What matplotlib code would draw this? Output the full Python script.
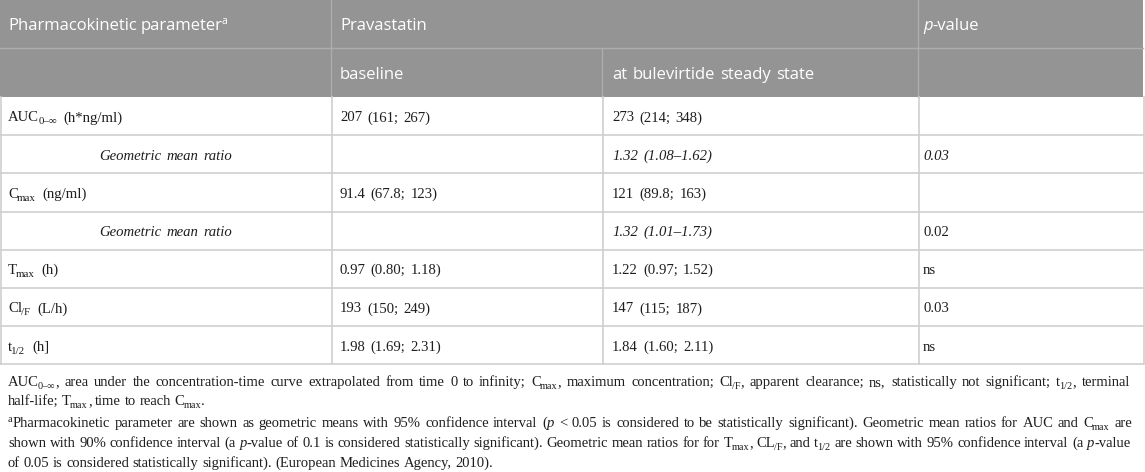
import matplotlib
matplotlib.use("Agg")
import matplotlib.pyplot as plt

# table content (runs: (text, style) with style n / i / sub / sup)
param_labels = [
    [("AUC", "n"), ("0\u2013\u221e", "sub"), (" (h*ng/ml)", "n")],
    [("Geometric mean ratio", "i")],
    [("C", "n"), ("max", "sub"), (" (ng/ml)", "n")],
    [("Geometric mean ratio", "i")],
    [("T", "n"), ("max", "sub"), (" (h)", "n")],
    [("Cl", "n"), ("/F", "sub"), (" (L/h)", "n")],
    [("t", "n"), ("1/2", "sub"), (" (h]", "n")],
]
baseline = ["207 (161; 267)", "", "91.4 (67.8; 123)", "", "0.97 (0.80; 1.18)",
            "193 (150; 249)", "1.98 (1.69; 2.31)"]
steady = ["273 (214; 348)", "1.32 (1.08\u20131.62)", "121 (89.8; 163)", "1.32 (1.01\u20131.73)",
          "1.22 (0.97; 1.52)", "147 (115; 187)", "1.84 (1.60; 2.11)"]
steady_italic = [False, True, False, True, False, False, False]
pvalues = ["", "0.03", "", "0.02", "ns", "0.03", "ns"]
pvalue_italic = [False, True, False, False, False, False, False]

footnotes = [
    ([("AUC", "n"), ("0\u2013\u221e", "sub"), (", area under the concentration-time curve extrapolated from time 0 to infinity; C", "n"),
      ("max", "sub"), (", maximum concentration; Cl", "n"), ("/F", "sub"),
      (", apparent clearance; ns, statistically not significant; t", "n"), ("1/2", "sub"), (", terminal", "n")], True),
    ([("half-life; T", "n"), ("max", "sub"), (", time to reach C", "n"), ("max", "sub"), (".", "n")], False),
    ([("a", "sup"), ("Pharmacokinetic parameter are shown as geometric means with 95% confidence interval (", "n"),
      ("p", "i"), (" < 0.05 is considered to be statistically significant). Geometric mean ratios for AUC and C", "n"),
      ("max", "sub"), (" are", "n")], True),
    ([("shown with 90% confidence interval (a ", "n"), ("p", "i"),
      ("-value of 0.1 is considered statistically significant). Geometric mean ratios for for T", "n"),
      ("max", "sub"), (", CL", "n"), ("/F", "sub"), (", and t", "n"), ("1/2", "sub"),
      (" are shown with 95% confidence interval (a ", "n"), ("p", "i"), ("-value", "n")], True),
    ([("of 0.05 is considered statistically significant). (European Medicines Agency, 2010).", "n")], False),
]

W, H = 1145, 472
fig = plt.figure(figsize=(W / 100, H / 100), dpi=100)
ax = fig.add_axes([0, 0, 1, 1])
ax.set_xlim(0, W)
ax.set_ylim(H, 0)
ax.axis("off")
renderer = fig.canvas.get_renderer()

SERIF = "Liberation Serif"
SANS = "Open Sans"


def text_width(s, size, family, style="normal"):
    t = ax.text(0, 0, s, fontsize=size, family=family, style=style)
    w = t.get_window_extent(renderer).width
    t.remove()
    return w


def draw_runs(x, y, runs, size, family, color="#1e1e1e", justify=None, center=False,
              space=1.0, subscale=0.7):
    # lay out runs word by word on a baseline at y (pixels)
    pieces = []
    for txt, st in runs:
        parts = txt.split(" ")
        for i, p in enumerate(parts):
            pieces.append((p, st, i > 0))
    sp = (text_width("x x", size, family) - text_width("xx", size, family)) * space
    widths = []
    for p, st, _ in pieces:
        s = size * subscale if st in ("sub", "sup") else size
        fs = "italic" if st == "i" else "normal"
        widths.append(text_width(p, s, family, fs) if p else 0)
    nsp = sum(1 for _, _, g in pieces if g)
    natural = sum(widths) + nsp * sp
    extra = 0
    if justify is not None and nsp:
        extra = (justify - natural) / nsp
    if center:
        x = x - natural / 2
    for k, ((p, st, gap), w) in enumerate(zip(pieces, widths)):
        if gap:
            x += sp + extra
        if p:
            s = size * subscale if st in ("sub", "sup") else size
            fs = "italic" if st == "i" else "normal"
            dy = 0
            if st == "sub":
                dy = size * 1.389 * 0.2
                x -= 0.8
            elif st == "sup":
                dy = -size * 1.389 * 0.36
                if k > 0:
                    x -= 1.5
            ax.text(x, y + dy, p, fontsize=s, family=family, style=fs, color=color, va="baseline")
        x += w


# geometry in pixels
col_x = [0, 331, 602, 918, 1143]
head_y = [0, 48, 97]
row_h = 38.2
n_rows = len(baseline)
body_top = head_y[-1]
row_edges = [body_top + i * row_h for i in range(n_rows + 1)]

head_gray = "#949494"
head_line = "#adadad"
grid = "#cfcfcf"

ax.add_patch(plt.Rectangle((0, 0), col_x[-1], head_y[-1], color=head_gray, lw=0))
ax.plot([0, col_x[-1]], [head_y[1], head_y[1]], color=head_line, lw=1)
for cx in (col_x[1], col_x[3]):
    ax.plot([cx, cx], [0, head_y[2]], color=head_line, lw=1)
ax.plot([col_x[2], col_x[2]], [head_y[1], head_y[2]], color=head_line, lw=1)

for ry in row_edges[1:]:
    ax.plot([0, col_x[-1]], [ry, ry], color=grid, lw=1.2)
for cx in col_x:
    ax.plot([cx + 0.5, cx + 0.5], [body_top, row_edges[-1]], color=grid, lw=1.2)

# header texts
hs = 12
hb = 0.36 * hs * 1.389
draw_runs(8, 24 + hb, [("Pharmacokinetic parameter", "n"), ("a", "sup")], hs, SANS, color="white",
          subscale=0.62)
draw_runs(340, 24 + hb, [("Pravastatin", "n")], hs, SANS, color="white")
draw_runs(923, 24 + hb, [("p", "i"), ("-value", "n")], hs, SANS, color="white")
draw_runs(340, 72.5 + hb, [("baseline", "n")], hs, SANS, color="white")
draw_runs(612, 72.5 + hb, [("at bulevirtide steady state", "n")], hs, SANS, color="white", space=1.2)

# body
bs = 10.6
bb = 0.36 * bs * 1.389
for i in range(n_rows):
    cy = (row_edges[i] + row_edges[i + 1]) / 2 + bb
    lab = param_labels[i]
    if lab[0][1] == "i":
        draw_runs(col_x[1] / 2, cy, lab, bs, SERIF, center=True, space=1.3)
    else:
        draw_runs(8, cy, lab, bs, SERIF, space=1.8, subscale=0.75)
    if baseline[i]:
        draw_runs(340, cy, [(baseline[i], "n")], bs, SERIF, space=1.3)
    if steady[i]:
        draw_runs(612, cy, [(steady[i], "i" if steady_italic[i] else "n")], bs, SERIF, space=1.4)
    if pvalues[i]:
        draw_runs(923, cy, [(pvalues[i], "i" if pvalue_italic[i] else "n")], bs, SERIF)

# footnotes
fsz = 10.5
foot_y = [386, 405, 427, 447, 467]
for (runs, just), fy in zip(footnotes, foot_y):
    draw_runs(8, fy, runs, fsz, SERIF, justify=1133 - 8 if just else None, space=1.0)

fig.savefig("out.png", dpi=100)
